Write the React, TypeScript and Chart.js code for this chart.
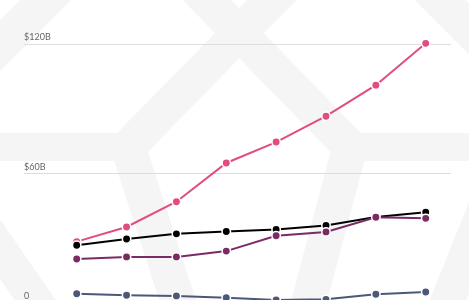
import React, { useEffect, useRef } from "react";
import { Chart, registerables } from "chart.js";

Chart.register(...registerables);

// Eight periods, plotted by index along a hidden x axis
const periods = [0, 1, 2, 3, 4, 5, 6, 7];

// Values in billions of dollars
const pinkSeries = [28.3, 35.1, 46.8, 64.8, 74.5, 86.5, 100.9, 120.3];
const blackSeries = [26.6, 29.5, 31.9, 33.0, 33.9, 35.8, 39.7, 41.9];
const plumSeries = [20.2, 21.2, 21.2, 23.9, 31.0, 32.8, 39.6, 39.1];
const slateSeries = [4.1, 3.4, 3.1, 2.3, 1.2, 1.5, 3.9, 4.9];

const yTickValues = [0, 60, 120];
const yTickLabels = ["0", "$60B", "$120B"];

const PATTERN = "#f5f5f6";

// Faint geometric watermark behind the plot
const backdrop = {
  id: "backdrop",
  beforeDraw(chart: any) {
    const { ctx, width, height } = chart;
    ctx.save();
    ctx.fillStyle = "#ffffff";
    ctx.fillRect(0, 0, width, height);
    ctx.strokeStyle = PATTERN;
    ctx.lineCap = "butt";
    ctx.lineJoin = "miter";
    const path = (w: number, pts: number[][]) => {
      ctx.lineWidth = w;
      ctx.beginPath();
      pts.forEach(([x, y], i) => (i ? ctx.lineTo(x, y) : ctx.moveTo(x, y)));
      ctx.stroke();
    };
    // horizontal band
    path(28, [[-20, 147], [128, 147]]);
    path(28, [[350, 147], [500, 147]]);
    // crossing diagonals and lower legs
    path(35, [[296, -24], [272, 0], [128, 147], [184, 320]]);
    path(35, [[184, -24], [207, 0], [350, 147], [304, 320]]);
    // corner strokes
    path(36, [[-20, 66], [66, -20]]);
    path(36, [[420, -20], [520, 80]]);
    path(34, [[-36, 197], [42, 310]]);
    path(34, [[500, 170], [440, 320]]);
    ctx.restore();
  },
};

const toPoints = (values: number[]) => values.map((v, i) => ({ x: periods[i], y: v }));

export default function App() {
  const canvasRef = useRef<HTMLCanvasElement | null>(null);

  useEffect(() => {
    document.body.style.margin = "0";
    const canvas = canvasRef.current;
    if (!canvas) return;
    const mk = (label: string, color: string, values: number[], order: number) => ({
      label,
      data: toPoints(values),
      borderColor: color,
      backgroundColor: color,
      pointBackgroundColor: color,
      pointBorderColor: "#ffffff",
      pointBorderWidth: 1.5,
      pointRadius: 4.2,
      borderWidth: 2,
      tension: 0,
      clip: false as any,
      order,
    });
    const chart = new Chart(canvas, {
      type: "line",
      data: {
        datasets: [
          mk("slate", "#4b5877", slateSeries, 0),
          mk("plum", "#7b2b64", plumSeries, 1),
          mk("black", "#000000", blackSeries, 2),
          mk("pink", "#e14d7c", pinkSeries, 3),
        ],
      },
      options: {
        animation: false,
        responsive: true,
        maintainAspectRatio: false,
        layout: { padding: { left: 24, right: 18, top: 44, bottom: 17.4 } },
        plugins: { legend: { display: false }, tooltip: { enabled: false } },
        scales: {
          x: { type: "linear", min: -1.057, max: 7.507, display: false },
          y: {
            min: 0,
            max: 120,
            position: "left",
            border: { display: false },
            grid: { color: "#dddddd", lineWidth: 1, drawTicks: false },
            afterBuildTicks: (axis: any) => {
              axis.ticks = yTickValues.map((value) => ({ value }));
            },
            ticks: {
              mirror: true,
              padding: 0,
              labelOffset: -6.5,
              color: "#666666",
              font: { family: "Lato", size: 9 },
              callback: (value: any) => yTickLabels[yTickValues.indexOf(Number(value))] ?? "",
            },
          },
        },
      },
      plugins: [backdrop],
    });
    return () => chart.destroy();
  }, []);

  return (
    <div style={{ position: "fixed", top: 0, left: 0, width: 469, height: 300, overflow: "hidden" }}>
      <div style={{ position: "relative", width: 469, height: 320 }}>
        <canvas ref={canvasRef} />
      </div>
    </div>
  );
}
